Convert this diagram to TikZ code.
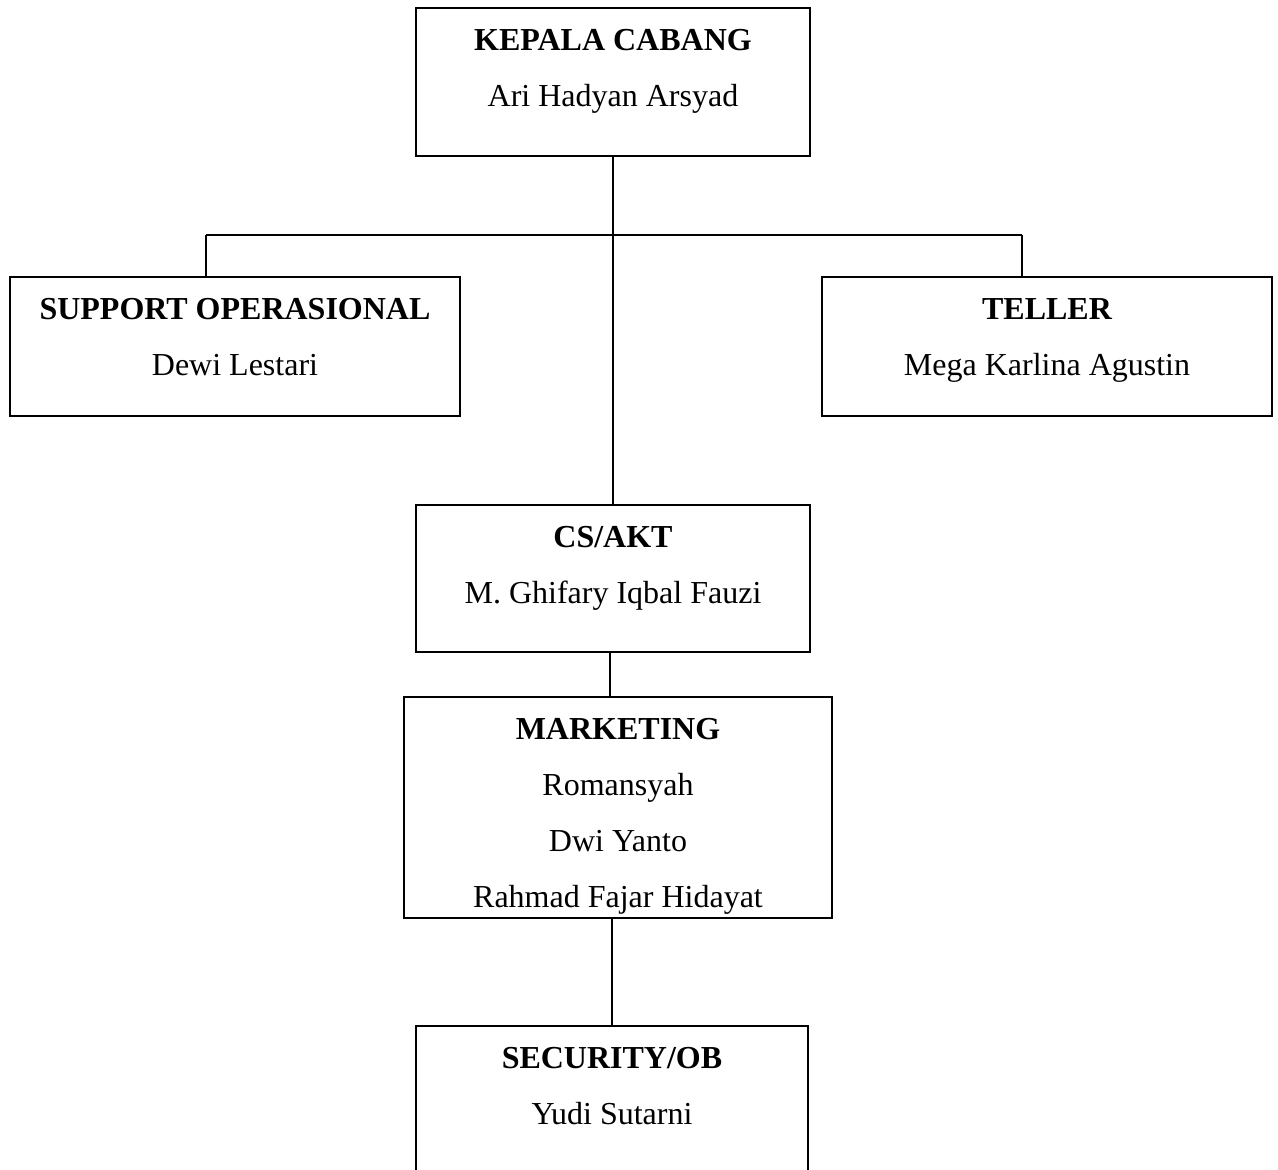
\documentclass[tikz,border=0pt]{standalone}
\usepackage{fontspec}
\setmainfont{Liberation Serif}
\usetikzlibrary{calc}

\begin{document}
\begin{tikzpicture}[x=0.5pt, y=-0.5pt,
    kotak/.style={draw, line width=0.9pt, rectangle, inner sep=0pt},
    judul/.style={anchor=base, font=\fontsize{16}{28}\selectfont\bfseries},
    nama/.style={anchor=base, font=\fontsize{16}{28}\selectfont},
    garis/.style={line width=0.9pt}]

                    % batas gambar
                    \clip (0,0) rectangle (1278,1169);

                    % kotak jabatan
                    \node[kotak, minimum width=197pt, minimum height=74pt] (kc) at (613,82) {};
                    \node[kotak, minimum width=225pt, minimum height=69.5pt] (sup) at (235,346.5) {};
                    \node[kotak, minimum width=225pt, minimum height=69.5pt] (tel) at (1047,346.5) {};
                    \node[kotak, minimum width=197pt, minimum height=73.5pt] (cs) at (613,578.5) {};
                    \node[kotak, minimum width=214pt, minimum height=110.5pt] (mkt) at (618,807.5) {};
                    \node[kotak, minimum width=196pt, minimum height=90pt] (sec) at (612,1116) {};

                    % judul dan nama
                    \node[judul] (kct) at ([yshift=-21.5pt]kc.north) {KEPALA CABANG};
                    \node[nama] (kcn) at ([yshift=-28pt]kct.base) {Ari Hadyan Arsyad};
                    \node[judul] (supt) at ([yshift=-21.5pt]sup.north) {SUPPORT OPERASIONAL};
                    \node[nama] (supn) at ([yshift=-28pt]supt.base) {Dewi Lestari};
                    \node[judul] (telt) at ([yshift=-21.5pt]tel.north) {TELLER};
                    \node[nama] (teln) at ([yshift=-28pt]telt.base) {Mega Karlina Agustin};
                    \node[judul] (cst) at ([yshift=-21.5pt]cs.north) {CS/AKT};
                    \node[nama] (csn) at ([yshift=-28pt]cst.base) {M. Ghifary Iqbal Fauzi};
                    \node[judul] (mktt) at ([yshift=-21.5pt]mkt.north) {MARKETING};
                    \node[nama] (mktn1) at ([yshift=-28pt]mktt.base) {Romansyah};
                    \node[nama] (mktn2) at ([yshift=-28pt]mktn1.base) {Dwi Yanto};
                    \node[nama] (mktn3) at ([yshift=-28pt]mktn2.base) {Rahmad Fajar Hidayat};
                    \node[judul] (sect) at ([yshift=-21.5pt]sec.north) {SECURITY/OB};
                    \node[nama] (secn) at ([yshift=-28pt]sect.base) {Yudi Sutarni};

                    % garis cabang kiri dan kanan
                    \coordinate (supj) at (206,235);
                    \coordinate (telj) at (1022,235);
                    \draw[garis] (supj) -- (telj);
                    \draw[garis] (supj) -- (supj |- sup.north);
                    \draw[garis] (telj) -- (telj |- tel.north);

                    % garis tengah
                    \coordinate (csj) at (610,0);
                    \draw[garis] (kc.south) -- (cs.north);
                    \draw[garis] (csj |- cs.south) -- (csj |- mkt.north);
                    \draw[garis] (sec.north |- mkt.south) -- (sec.north);

\end{tikzpicture}
\end{document}
